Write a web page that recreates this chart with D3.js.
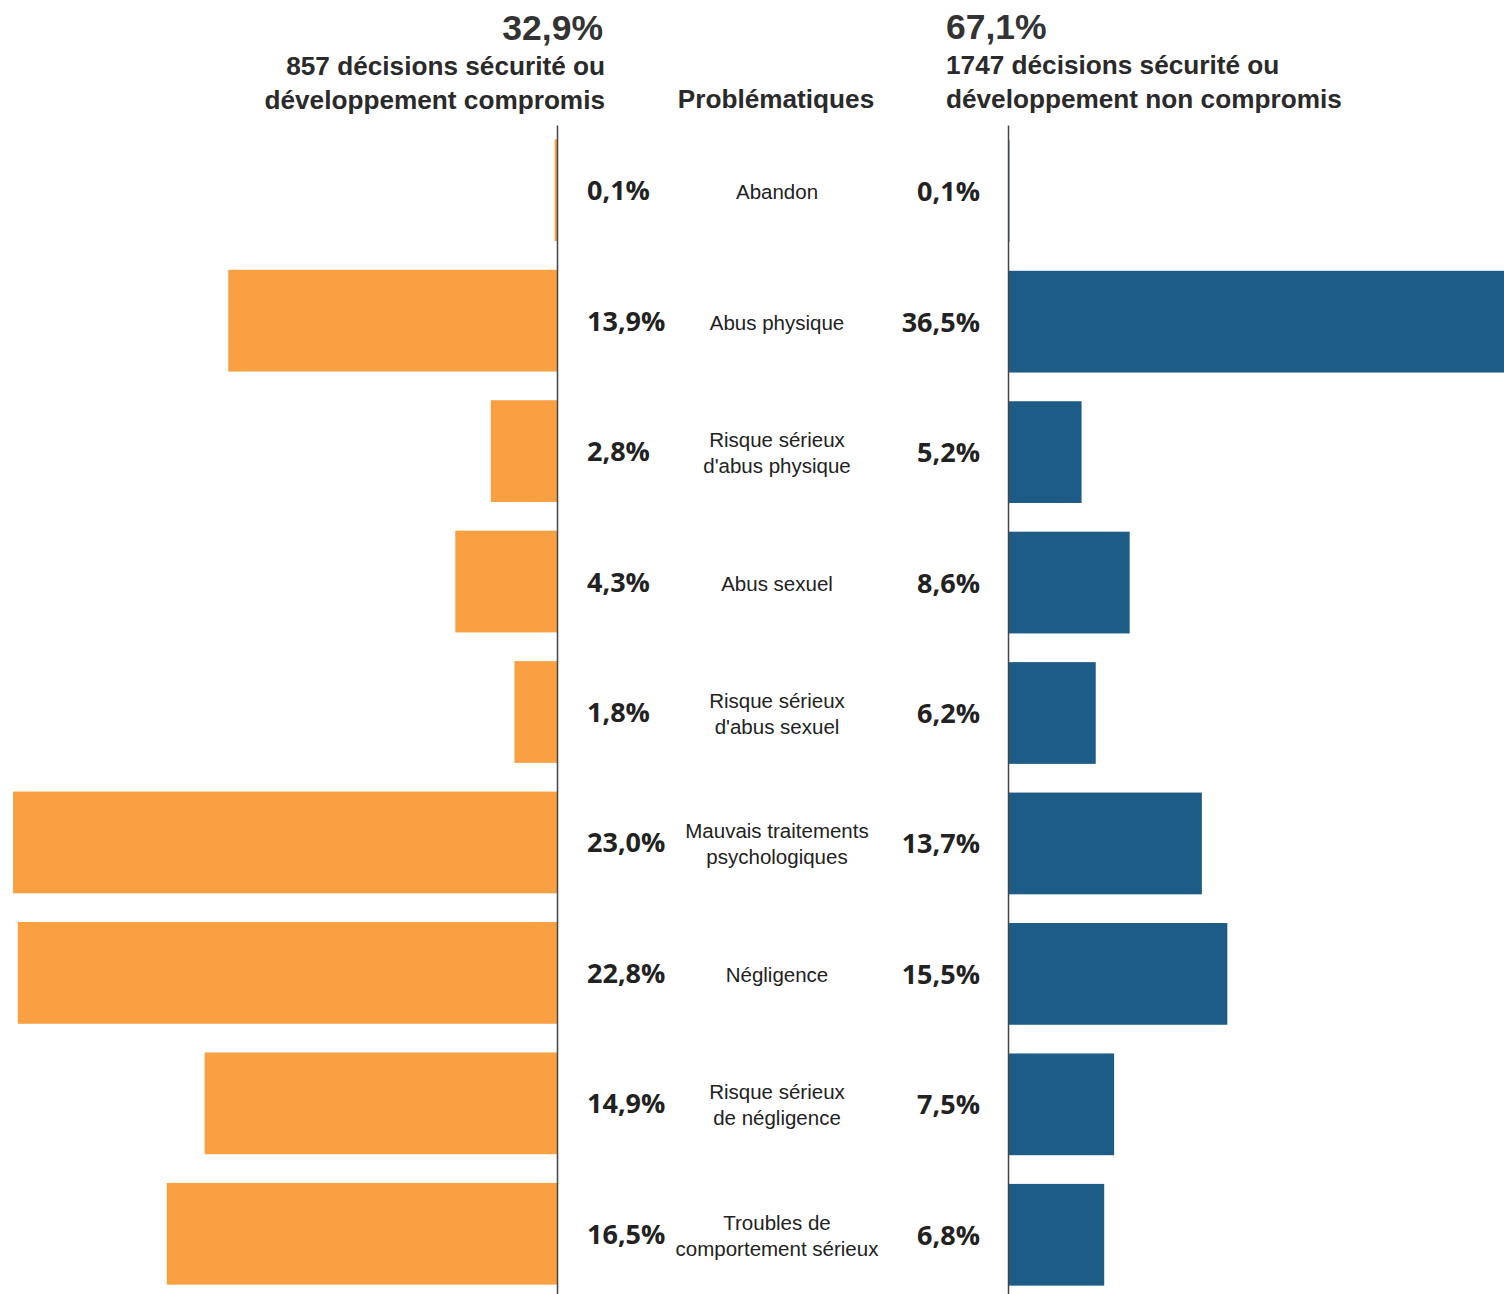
<!DOCTYPE html>
<html>
<head>
<meta charset="utf-8">
<script src="https://cdn.jsdelivr.net/npm/d3@7"></script>
<style>
  body { margin: 0; background: #fff; }
  svg { display: block; }
</style>
</head>
<body>
<svg id="chart"></svg>
<script>
// categories, one per row (lines split for wrapping)
const categories = [
  ["Abandon"],
  ["Abus physique"],
  ["Risque sérieux", "d'abus physique"],
  ["Abus sexuel"],
  ["Risque sérieux", "d'abus sexuel"],
  ["Mauvais traitements", "psychologiques"],
  ["Négligence"],
  ["Risque sérieux", "de négligence"],
  ["Troubles de", "comportement sérieux"]
];
const compromis = [0.1, 13.9, 2.8, 4.3, 1.8, 23.0, 22.8, 14.9, 16.5];
const nonCompromis = [0.1, 36.5, 5.2, 8.6, 6.2, 13.7, 15.5, 7.5, 6.8];
const leftHeader = ["32,9%", "857 décisions sécurité ou", "développement compromis"];
const rightHeader = ["67,1%", "1747 décisions sécurité ou", "développement non compromis"];
const middleHeader = "Problématiques";

const W = 1504, H = 1294;
const fmt = v => d3.format(".1f")(v).replace(".", ",") + "%";

const svg = d3.select("#chart").attr("width", W).attr("height", H);

const keys = categories.map((c, i) => i);
const y = d3.scaleBand().domain(keys).range([125, 1299])
  .paddingInner(0.22).paddingOuter(0.11);

//LEFT AND RIGHT SCALES (different px per %, as in the source)
const xL = d3.scaleLinear().domain([0, 25]).range([557, 557 - 25 * 23.65]);
const xR = d3.scaleLinear().domain([0, 40]).range([1008, 1008 + 40 * 14.15]);

//BARS
svg.append("g").selectAll("rect")
  .data(compromis)
  .join("rect")
  .attr("x", d => xL(d))
  .attr("y", (d, i) => y(i))
  .attr("width", d => xL(0) - xL(d))
  .attr("height", y.bandwidth())
  .attr("fill", "#F8A042");

svg.append("g").selectAll("rect")
  .data(nonCompromis)
  .join("rect")
  .attr("x", xR(0))
  .attr("y", (d, i) => y(i) + 1)
  .attr("width", d => xR(d) - xR(0))
  .attr("height", y.bandwidth())
  .attr("fill", "#1E5C88");

//AXIS LINES
svg.append("g")
  .attr("transform", `translate(${xL(0)},0)`)
  .call(d3.axisRight(y).tickSize(0).tickFormat(""))
  .call(g => g.select(".domain").attr("stroke", "#444").attr("stroke-width", 1.5));
svg.append("g")
  .attr("transform", `translate(${xR(0)},0)`)
  .call(d3.axisRight(y).tickSize(0).tickFormat(""))
  .call(g => g.select(".domain").attr("stroke", "#444").attr("stroke-width", 1.5));

const rowMid = i => y(i) + y.bandwidth() / 2;

//VALUE LABELS
svg.append("g").selectAll("text")
  .data(compromis)
  .join("text")
  .attr("x", 587)
  .attr("y", (d, i) => rowMid(i) + 10)
  .style("font-family", "'Open Sans', sans-serif")
  .style("font-weight", 700)
  .style("font-size", "27px")
  .style("fill", "#222")
  .text(fmt);

svg.append("g").selectAll("text")
  .data(nonCompromis)
  .join("text")
  .attr("x", 980)
  .attr("y", (d, i) => rowMid(i) + 11)
  .attr("text-anchor", "end")
  .style("font-family", "'Open Sans', sans-serif")
  .style("font-weight", 700)
  .style("font-size", "27px")
  .style("fill", "#222")
  .text(fmt);

//CATEGORY LABELS
const cat = svg.append("g").selectAll("text")
  .data(categories)
  .join("text")
  .attr("text-anchor", "middle")
  .style("font-family", "'Liberation Sans', Arial, sans-serif")
  .style("font-size", "20.5px")
  .style("fill", "#222");
cat.each(function(lines, i) {
  const t = d3.select(this);
  const top = rowMid(i) + 9 - (lines.length - 1) * 13;
  lines.forEach((l, k) => {
    t.append("tspan").attr("x", 777).attr("y", top + k * 26).text(l);
  });
});

//HEADERS
const head = svg.append("g")
  .style("font-family", "'Liberation Sans', Arial, sans-serif")
  .style("font-weight", 700)
  .style("fill", "#2a2a2a");

head.append("text").attr("x", 603).attr("y", 40).attr("text-anchor", "end")
  .style("font-size", "35.5px").style("fill", "#333").text(leftHeader[0]);
head.append("text").attr("x", 605).attr("y", 75).attr("text-anchor", "end")
  .style("font-size", "26.2px").text(leftHeader[1]);
head.append("text").attr("x", 605).attr("y", 109).attr("text-anchor", "end")
  .style("font-size", "26.2px").text(leftHeader[2]);

head.append("text").attr("x", 946).attr("y", 39)
  .style("font-size", "35.5px").style("fill", "#333").text(rightHeader[0]);
head.append("text").attr("x", 946).attr("y", 74)
  .style("font-size", "26.2px").text(rightHeader[1]);
head.append("text").attr("x", 946).attr("y", 108)
  .style("font-size", "26.2px").text(rightHeader[2]);

head.append("text").attr("x", 776).attr("y", 108).attr("text-anchor", "middle")
  .style("font-size", "26.2px").text(middleHeader);
</script>
</body>
</html>
